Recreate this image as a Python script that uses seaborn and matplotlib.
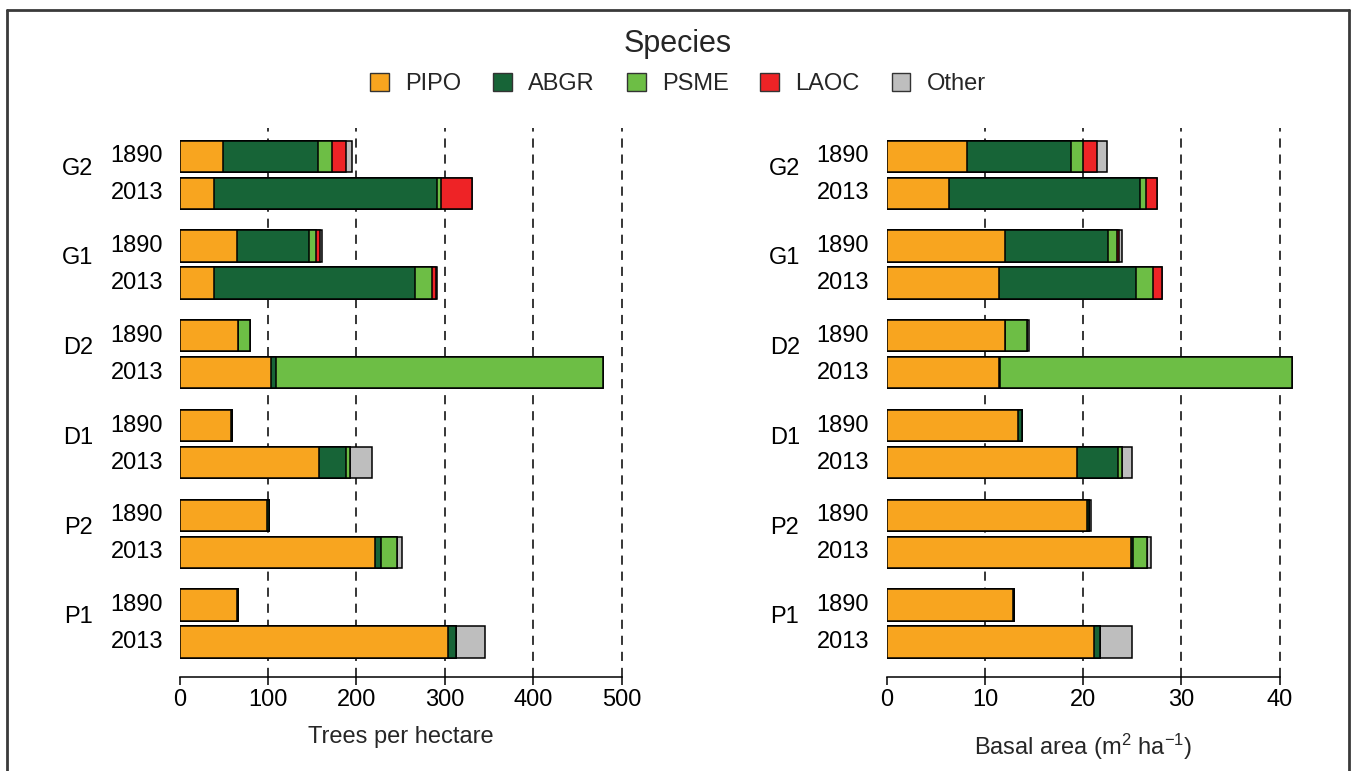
import numpy as np
import pandas as pd
import matplotlib
matplotlib.use("Agg")
import matplotlib.pyplot as plt
from matplotlib.patches import Patch
from matplotlib.lines import Line2D
import seaborn as sns

# Stand composition by site and survey year
sites = ["G2", "G1", "D2", "D1", "P2", "P1"]
years = ["1890", "2013"]
species = ["PIPO", "ABGR", "PSME", "LAOC", "Other"]
species_colors = ["#F8A51F", "#176437", "#6DBE45", "#EE2326", "#BEBEBE"]

# Trees per hectare, bars ordered G2-1890, G2-2013, G1-1890, ... P1-2013
tph_pipo  = [49, 39, 65, 39, 66, 103, 58, 158, 99.5, 221.5, 65, 304]
tph_abgr  = [108, 252, 82, 227, 0.5, 6, 1, 30, 1.5, 6, 1, 9]
tph_psme  = [16, 4.5, 7.5, 20, 13, 370, 0, 4.5, 0, 19, 0, 0]
tph_laoc  = [15, 35, 4.5, 4, 0, 0, 0, 0, 0, 0, 0, 0]
tph_other = [7, 0, 2, 1, 0, 0, 0, 25, 0, 5, 0, 33]

# Basal area (m2 per ha), same bar order
ba_pipo  = [8.2, 6.3, 12.0, 11.4, 12.0, 11.4, 13.4, 19.4, 20.35, 24.9, 12.9, 21.1]
ba_abgr  = [10.6, 19.5, 10.5, 14.0, 0.0, 0.15, 0.4, 4.15, 0.25, 0.15, 0.1, 0.6]
ba_psme  = [1.2, 0.6, 0.9, 1.7, 2.3, 29.75, 0, 0.35, 0, 1.45, 0, 0]
ba_laoc  = [1.4, 1.1, 0.25, 0.9, 0, 0, 0, 0, 0, 0, 0, 0]
ba_other = [1.0, 0, 0.3, 0, 0.2, 0, 0, 1.05, 0.15, 0.35, 0, 3.25]

tph_ticks = [0, 100, 200, 300, 400, 500]
ba_ticks = [0, 10, 20, 30, 40]

# ---- layout -------------------------------------------------------------
W, H = 1352, 771
DPI = 100
sns.set_theme(style="white")
plt.rcParams["font.family"] = ["Liberation Sans", "DejaVu Sans"]
plt.rcParams["mathtext.fontset"] = "custom"
plt.rcParams["mathtext.rm"] = "Liberation Sans"
FS = 17

fig = plt.figure(figsize=(W / DPI, H / DPI), dpi=DPI)
fig.patch.set_facecolor("white")

GROUP_STEP = 2.91
PAIR_STEP = 1.2
PX_PER_UNIT = 37 / PAIR_STEP
ax_top_px, ax_bot_px = 128, 677
y_lo = -(ax_bot_px - 642) / PX_PER_UNIT
y_hi = y_lo + (ax_bot_px - ax_top_px) / PX_PER_UNIT

n = len(sites)
ypos = []
for i, s in enumerate(sites):
    g = n - 1 - i
    ypos += [g * GROUP_STEP + PAIR_STEP, g * GROUP_STEP]
bar_year = years * n
bar_site = [s for s in sites for _ in years]


def make_axes(x0_px, px_per_x, xmax):
    left = x0_px / W
    width = xmax * px_per_x / W
    bottom = (H - ax_bot_px) / H
    height = (ax_bot_px - ax_top_px) / H
    return fig.add_axes([left, bottom, width, height])


def draw_panel(ax, layers, xmax, ticks, xlabel, label_center, label_y,
               year_x_px, group_x_px):
    df = pd.DataFrame({"site": bar_site, "year": bar_year, "y": ypos})
    cum = np.zeros(len(ypos))
    cums = []
    for vals in layers:
        cum = cum + np.asarray(vals, dtype=float)
        cums.append(cum.copy())
    # draw cumulative totals from the last species back to the first
    for sp_idx in range(len(species) - 1, -1, -1):
        d = df.copy()
        d["x"] = cums[sp_idx]
        sns.barplot(data=d, x="x", y="y", orient="y", native_scale=True,
                    color=species_colors[sp_idx], saturation=1,
                    edgecolor="black", linewidth=1.1, width=0.845,
                    errorbar=None, ax=ax, zorder=3)
    ax.set_xlim(0, xmax)
    ax.set_ylim(y_lo, y_hi)
    for t in ticks[1:]:
        ax.axvline(t, color="black", lw=1.1, ls=(0, (6, 4.5)), zorder=1)
    for sp in ["top", "right", "left"]:
        ax.spines[sp].set_visible(False)
    ax.spines["bottom"].set_bounds(ticks[0], ticks[-1])
    ax.spines["bottom"].set_color("black")
    ax.spines["bottom"].set_linewidth(1.1)
    ax.set_xticks(ticks)
    ax.set_xticklabels([str(t) for t in ticks])
    ax.tick_params(axis="x", direction="out", length=6, width=1.1, pad=3,
                   labelsize=FS, colors="black", bottom=True)
    ax.set_yticks([])
    ax.set_ylabel("")
    ax.set_xlabel(xlabel, fontsize=FS)
    ax.xaxis.set_label_coords(label_center, label_y)
    ax.xaxis.label.set_verticalalignment("center")
    ax.grid(False)
    ax.set_facecolor("none")
    # year labels and site labels at the left of each pair
    tr_y = matplotlib.transforms.blended_transform_factory(fig.transFigure, ax.transData)
    for yv, yr in zip(ypos, bar_year):
        ax.text(year_x_px / W, yv, yr, transform=tr_y, ha="right", va="center",
                fontsize=FS, color="black")
    for i, s in enumerate(sites):
        mid = (ypos[2 * i] + ypos[2 * i + 1]) / 2 + 0.2
        ax.text(group_x_px / W, mid, s, transform=tr_y, ha="center", va="center",
                fontsize=FS, color="black")


ax1 = make_axes(179.5, 0.884, 505)
draw_panel(ax1, [tph_pipo, tph_abgr, tph_psme, tph_laoc, tph_other],
           505, tph_ticks, "Trees per hectare", 250 / 505, -0.110, 163, 78)

ax2 = make_axes(886.7, 9.825, 42)
draw_panel(ax2, [ba_pipo, ba_abgr, ba_psme, ba_laoc, ba_other],
           42, ba_ticks, r"Basal area ($\mathregular{m^2}$ $\mathregular{ha^{-1}}$)",
           20 / 42, -0.127, 869, 785)

# species legend across the top
handles = [Patch(facecolor=c, edgecolor="#333333", linewidth=1.0, label=s)
           for s, c in zip(species, species_colors)]
leg = fig.legend(handles=handles, loc="upper center", bbox_to_anchor=(678 / W, 1 - 29 / H),
                 ncol=5, frameon=False, fontsize=FS, title="Species",
                 title_fontsize=22, handlelength=0.8, handleheight=0.8,
                 handletextpad=0.68, columnspacing=1.35, borderpad=0,
                 borderaxespad=0)
leg._legend_box.sep = 10

# outer frame
frame_kw = dict(color="#3a3a3a", lw=2.0, transform=fig.transFigure)
fig.add_artist(Line2D([6.5 / W, 6.5 / W], [0, 1 - 9.5 / H], **frame_kw))
fig.add_artist(Line2D([6.5 / W, 1349 / W], [1 - 9.5 / H, 1 - 9.5 / H], **frame_kw))
fig.add_artist(Line2D([1349 / W, 1349 / W], [0, 1 - 9.5 / H], **frame_kw))

fig.savefig("out.png", dpi=DPI)
